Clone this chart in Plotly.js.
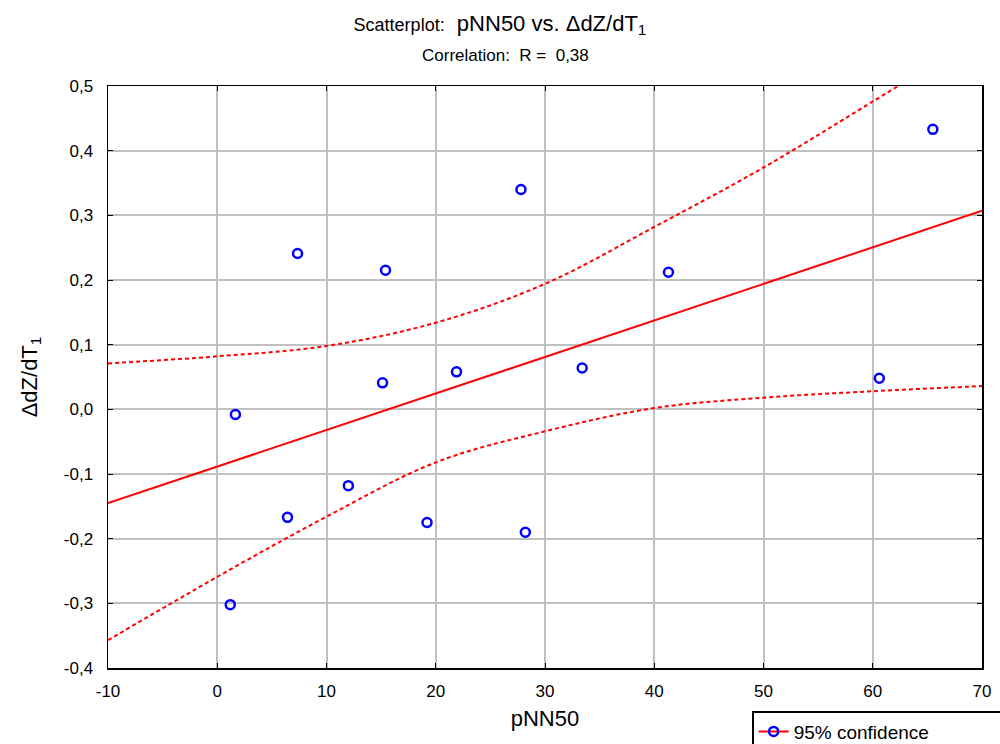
<!DOCTYPE html>
<html><head><meta charset="utf-8">
<script src="https://cdn.plot.ly/plotly-3.0.1.min.js"></script>
<style>body{margin:0;background:#fff}#chart{width:1000px;height:744px}</style>
</head><body><div id="chart"></div>
<script>
// Observations: pNN50 (x) vs ΔdZ/dT1 (y)
const pnn50 = [1.66, 7.35, 15.4, 15.13, 27.8, 41.3, 21.9, 33.4, 65.5, 60.6, 12.0, 6.43, 19.2, 28.2, 1.19];
const dzdt  = [-0.008, 0.241, 0.215, 0.041, 0.34, 0.212, 0.058, 0.064, 0.433, 0.048, -0.118, -0.167, -0.175, -0.19, -0.302];
// Regression line (read at the axis ends)
const regX = [-10, 70];
const regY = [-0.145, 0.307];
// 95% confidence bands
const bandX = [-10, 0, 10, 20, 30, 40, 50, 60, 70];
const upperY = [0.071, 0.082, 0.098, 0.134, 0.194, 0.282, 0.374, 0.476, 0.58];
const lowerY = [-0.357, -0.259, -0.166, -0.082, -0.034, 0.002, 0.018, 0.028, 0.036];
const xTicks = [-10, 0, 10, 20, 30, 40, 50, 60, 70];
const xTickText = ['-10', '0', '10', '20', '30', '40', '50', '60', '70'];
const yTicks = [-0.4, -0.3, -0.2, -0.1, 0.0, 0.1, 0.2, 0.3, 0.4, 0.5];
const yTickText = ['-0,4', '-0,3', '-0,2', '-0,1', '0,0', '0,1', '0,2', '0,3', '0,4', '0,5'];

const FONT = 'Liberation Sans, Arial, sans-serif';
const traces = [
  {x: bandX, y: upperY, mode: 'lines', line: {color: '#ff0000', width: 2, dash: '4px,3px', shape: 'spline'}, showlegend: false, hoverinfo: 'skip'},
  {x: bandX, y: lowerY, mode: 'lines', line: {color: '#ff0000', width: 2, dash: '4px,3px', shape: 'spline'}, showlegend: false, hoverinfo: 'skip'},
  {x: regX, y: regY, mode: 'lines', line: {color: '#ff0000', width: 2}, showlegend: false},
  {x: pnn50, y: dzdt, mode: 'markers', marker: {symbol: 'circle-open', color: '#0000ff', size: 9, line: {width: 2.5, color: '#0000ff'}}, showlegend: false, cliponaxis: false},
  {x: [null], y: [null], mode: 'lines+markers', name: '95% confidence', line: {color: '#ff0000', width: 2}, marker: {symbol: 'circle-open', color: '#0000ff', size: 9, line: {width: 2.5, color: '#0000ff'}}}
];
const layout = {
  width: 1000, height: 744,
  margin: {l: 108, r: 18, t: 86, b: 76, autoexpand: false},
  paper_bgcolor: '#fff', plot_bgcolor: '#fff',
  font: {family: FONT, color: '#000'},
  title: {text: '<span style="font-size:18px">Scatterplot:</span>  pNN50 vs. ΔdZ/dT<sub>1</sub>',
          font: {family: FONT, size: 22, color: '#000'}, x: 0.5, xanchor: 'center', y: 0.969, yanchor: 'middle', yref: 'container'},
  annotations: [{text: 'Correlation:  R =  0,38', xref: 'paper', yref: 'paper', x: 0.4547, y: 1.0, yshift: 19,
                 xanchor: 'center', yanchor: 'bottom', showarrow: false, font: {family: FONT, size: 17, color: '#000'}}],
  xaxis: {range: [-10, 70], tickvals: xTicks, ticktext: xTickText, showgrid: true, gridcolor: '#c0c0c0', gridwidth: 2,
          zeroline: false, showline: true, linecolor: '#000', linewidth: 1.5, mirror: 'ticks', ticks: 'inside', ticklen: 5, tickcolor: '#000',
          ticklabelstandoff: 7,
          tickfont: {size: 17, family: FONT}, title: {text: 'pNN50', font: {size: 22, family: FONT}, standoff: 10}},
  yaxis: {range: [-0.4, 0.5], tickvals: yTicks, ticktext: yTickText, showgrid: true, gridcolor: '#c0c0c0', gridwidth: 2,
          zeroline: false, showline: true, linecolor: '#000', linewidth: 1.5, mirror: 'ticks', ticks: 'inside', ticklen: 5, tickcolor: '#000',
          ticklabelstandoff: 10,
          tickfont: {size: 17, family: FONT}, title: {text: 'ΔdZ/dT<sub>1</sub>', font: {size: 22, family: FONT}, standoff: 20}},
  showlegend: true,
  legend: {orientation: 'h', entrywidth: 220, x: 0.737, xanchor: 'left', y: -0.074, yanchor: 'top', bgcolor: '#fff', bordercolor: '#000', borderwidth: 1.5,
           font: {size: 19, family: FONT}}
};
Plotly.newPlot('chart', traces, layout, {displayModeBar: false, staticPlot: true});
</script></body></html>
